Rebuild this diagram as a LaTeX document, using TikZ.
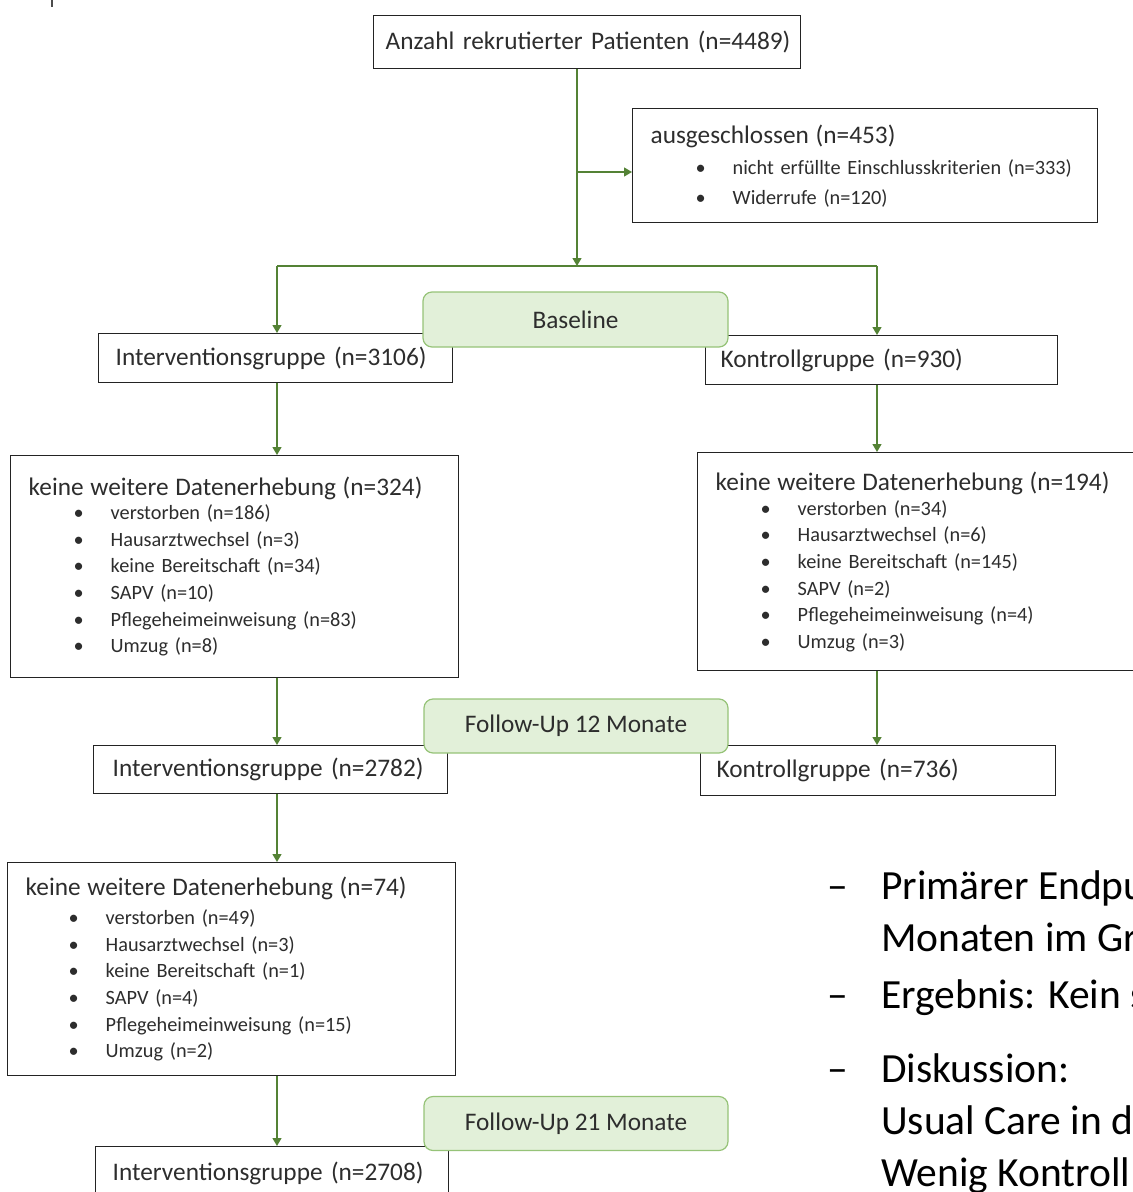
\documentclass[tikz,border=0pt]{standalone}
\usepackage{fontspec}
\setmainfont{Carlito}
\usetikzlibrary{arrows.meta}

\definecolor{flowgreen}{RGB}{84,130,53}
\definecolor{phasefill}{RGB}{226,240,217}
\definecolor{phaseline}{RGB}{150,195,120}
\definecolor{boxline}{RGB}{35,35,35}
\definecolor{txt}{RGB}{45,45,45}

\newcommand{\bul}[1]{\hspace*{45pt}\makebox[37pt][l]{\textbullet}#1}
\newcommand{\headline}[1]{{\fontsize{25.3}{30}\selectfont #1}}

\begin{document}
\begin{tikzpicture}[x=1pt, y=-1pt,
    group/.style={rectangle, draw=boxline, line width=1.4pt, anchor=north west,
        inner xsep=17pt, inner ysep=0pt, text=txt, align=left,
        font=\fontsize{25.3}{30}\selectfont},
    dropbox/.style={group, inner xsep=18pt, font=\fontsize{20.3}{26.6}\selectfont},
    phase/.style={rectangle, rounded corners=9pt, draw=phaseline, line width=1.2pt,
        fill=phasefill, minimum width=304pt, minimum height=54pt, text=txt,
        font=\fontsize{25.3}{30}\selectfont},
    flow/.style={draw=flowgreen, line width=1.3pt, -{Triangle[width=9pt,length=8pt]}},
    link/.style={draw=flowgreen, line width=1.3pt},
    note/.style={anchor=base west, inner sep=0pt, text=black,
        font=\fontsize{41.5}{52}\selectfont}
]
\useasboundingbox (0,0) rectangle (1133,1192);
\clip (0,0) rectangle (1133,1192);

% leftover mark, top left
\draw[line width=1.3pt, black!70] (52,0) -- (52,7);

% recruitment and exclusion
\node[group, inner xsep=12pt, minimum height=53pt, text width=403pt] (anz) at (373,15)
    {\mbox{Anzahl rekrutierter Patienten (n=4489)}};
\node[dropbox, minimum height=114pt, text width=429pt, font=\fontsize{20.3}{30}\selectfont] (excl) at (632,108) {
    \headline{ausgeschlossen (n=453)}\\[1pt]
    \bul{nicht erfüllte Einschlusskriterien (n=333)}\\
    \bul{Widerrufe (n=120)}
};

% split points
\coordinate (branch) at (577,172);
\coordinate (split) at (577,266);
\coordinate (splitL) at (277,266);
\coordinate (splitR) at (877,266);

% baseline groups
\node[group, minimum height=49pt, text width=320pt] (ig0) at (98,333)
    {Interventionsgruppe (n=3106)};
\node[group, inner xsep=15pt, minimum height=49pt, text width=322pt] (kg0) at (705,335)
    {Kontrollgruppe (n=930)};

% dropouts up to 12 months
\node[dropbox, minimum height=222pt, text width=412pt] (drop1) at (10,455) {
    \headline{keine weitere Datenerhebung (n=324)}\\[-2.6pt]
    \bul{verstorben (n=186)}\\
    \bul{Hausarztwechsel (n=3)}\\
    \bul{keine Bereitschaft (n=34)}\\
    \bul{SAPV (n=10)}\\
    \bul{Pflegeheimeinweisung (n=83)}\\
    \bul{Umzug (n=8)}
};
\node[dropbox, minimum height=218pt, text width=412pt] (drop2) at (697,452) {
    \headline{keine weitere Datenerhebung (n=194)}\\[-1.6pt]
    \bul{verstorben (n=34)}\\
    \bul{Hausarztwechsel (n=6)}\\
    \bul{keine Bereitschaft (n=145)}\\
    \bul{SAPV (n=2)}\\
    \bul{Pflegeheimeinweisung (n=4)}\\
    \bul{Umzug (n=3)}
};

% 12 month groups
\node[group, inner xsep=19pt, minimum height=48pt, text width=316pt] (ig1) at (93,745)
    {Interventionsgruppe (n=2782)};
\node[group, inner xsep=16pt, minimum height=50pt, text width=323pt] (kg1) at (700,745)
    {Kontrollgruppe (n=736)};

% dropouts up to 21 months
\node[dropbox, minimum height=213pt, text width=412pt] (drop3) at (7,862) {
    \headline{keine weitere Datenerhebung (n=74)}\\[2.4pt]
    \hspace*{-2pt}\bul{verstorben (n=49)}\\
    \hspace*{-2pt}\bul{Hausarztwechsel (n=3)}\\
    \hspace*{-2pt}\bul{keine Bereitschaft (n=1)}\\
    \hspace*{-2pt}\bul{SAPV (n=4)}\\
    \hspace*{-2pt}\bul{Pflegeheimeinweisung (n=15)}\\
    \hspace*{-2pt}\bul{Umzug (n=2)}
};

% 21 month group
\node[group, minimum height=54pt, text width=319pt] (ig2) at (95,1146)
    {Interventionsgruppe (n=2708)};

% arrows
\draw[flow] (anz.south -| split) -- (split);
\draw[flow] (branch) -- (branch -| excl.west);
\draw[link] (splitL) -- (splitR);
\draw[flow] (splitL) -- (ig0.north -| splitL);
\draw[flow] (splitR) -- (kg0.north -| splitR);
\draw[flow] (ig0.south -| splitL) -- (drop1.north -| splitL);
\draw[flow] (kg0.south -| splitR) -- (drop2.north -| splitR);
\draw[flow] (drop1.south -| splitL) -- (ig1.north -| splitL);
\draw[flow] (drop2.south -| splitR) -- (kg1.north -| splitR);
\draw[flow] (ig1.south -| splitL) -- (drop3.north -| splitL);
\draw[flow] (drop3.south -| splitL) -- (ig2.north -| splitL);

% phase labels
\node[phase, minimum width=305pt, minimum height=55pt] (base) at (575.5,319.5) {Baseline};
\node[phase] (fu12) at (576,726) {Follow-Up 12 Monate};
\node[phase] (fu21) at (576,1123.5) {Follow-Up 21 Monate};

% notes on the right
\node[note] (dash1) at (827,899) {–};
\node[note] (n1) at (881,899) {Primärer Endpu};
\node[note] (n2) at (881,951) {Monaten im Gr};
\node[note] (dash2) at (827,1008) {–};
\node[note] (n3) at (881,1008) {Ergebnis: Kein s};
\node[note] (dash3) at (827,1082) {–};
\node[note] (n4) at (881,1082) {Diskussion:};
\node[note] (n5) at (881,1134) {Usual Care in d};
\node[note] (n6) at (881,1186) {Wenig Kontroll};
\end{tikzpicture}
\end{document}
